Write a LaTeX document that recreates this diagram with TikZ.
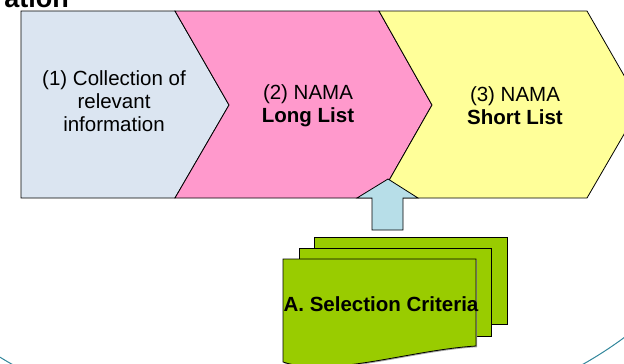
\documentclass[tikz,border=0pt]{standalone}
\usepackage{fontspec}
\setmainfont{Liberation Sans}

\definecolor{infoblue}{HTML}{DBE5F1}
\definecolor{longpink}{HTML}{FF99CC}
\definecolor{shortyellow}{HTML}{FFFF99}
\definecolor{arrowcyan}{HTML}{B7DEE8}
\definecolor{criteriagreen}{HTML}{99CC00}
\definecolor{ringteal}{HTML}{31869B}

\begin{document}
\begin{tikzpicture}[x=1pt, y=-1pt,
  stage/.style={draw=black, line width=0.8pt, line join=miter},
  steptext/.style={font=\fontsize{20.5}{23}\selectfont, align=center, inner sep=0pt},
  page/.style={fill=criteriagreen, draw=black, line width=0.8pt},
  pageshadow/.style={fill=black!35, draw=none}]
\useasboundingbox (0,0) rectangle (624,364);
\clip (0,0) rectangle (624,364);

% large surrounding oval (only its lower rim shows)
\draw[ringteal, line width=1pt] (297.5,150) ellipse [x radius=435, y radius=284];

% title fragment
\node[anchor=base east, inner sep=0pt, font=\bfseries\fontsize{27}{30}\selectfont] (title) at (69,7) {ation};

% process chevrons
\filldraw[stage, fill=infoblue]
  (21,11) -- (175,11) -- (229,105) -- (175,198) -- (21,198) -- cycle;
\filldraw[stage, fill=longpink]
  (175,11) -- (379,11) -- (432,105) -- (379,198) -- (175,198) -- (229,105) -- cycle;
\filldraw[stage, fill=shortyellow]
  (379,11) -- (587,11) -- (641,105) -- (587,198) -- (379,198) -- (432,105) -- cycle;

\node[steptext] (collect) at (114,101) {(1) Collection of\\relevant\\information};
\node[steptext] (longlist) at (308,106) {(2) NAMA\\\textbf{Long List}};
\node[steptext] (shortlist) at (515,106) {(3) NAMA\\\textbf{Short List}};

% upward block arrow feeding the short list
\filldraw[stage, fill=arrowcyan]
  (388,179) -- (418,198) -- (403,198) -- (403,230) -- (372,230) -- (372,198) -- (357,198) -- cycle;

% stacked criteria pages
\fill[pageshadow] (315.2,238.2) rectangle (508.2,325.2);
\filldraw[page] (314,237) rectangle (507,324);
\fill[pageshadow] (300.2,249.2) rectangle (492.2,337.2);
\filldraw[page] (299,248) rectangle (491,336);
\fill[pageshadow, shift={(1.2,1.2)}] (283,259) -- (476,259) -- (476,346)
  .. controls (410,350) and (330,378) .. (283,362) -- cycle;
\filldraw[page] (283,259) -- (476,259) -- (476,346)
  .. controls (410,350) and (330,378) .. (283,362) -- cycle;

\node[steptext, font=\bfseries\fontsize{20.5}{23}\selectfont] (criteria) at (381,304) {A. Selection Criteria};
\end{tikzpicture}
\end{document}
